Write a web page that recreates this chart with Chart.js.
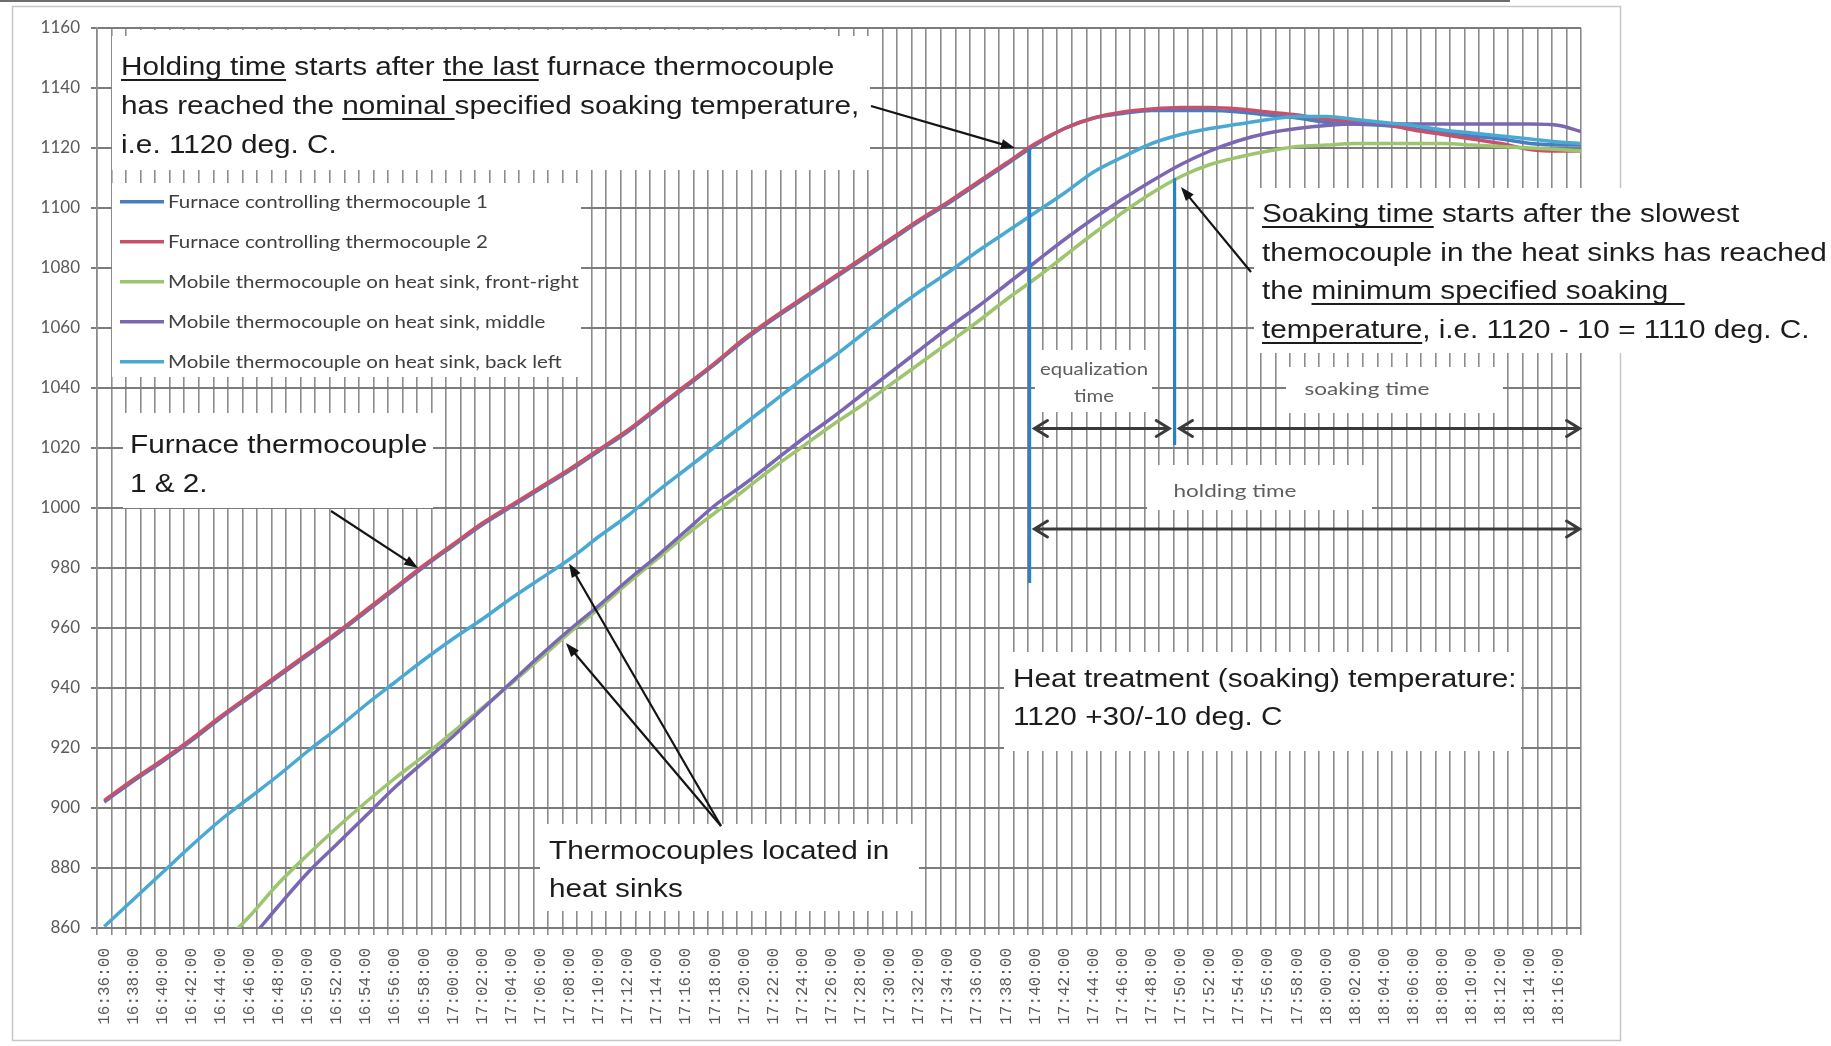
<!DOCTYPE html>
<html><head><meta charset="utf-8">
<script src="https://cdn.jsdelivr.net/npm/chart.js@4.4.1/dist/chart.umd.min.js"></script>
<style>html,body{margin:0;padding:0;background:#fff;overflow:hidden}canvas{display:block}</style>
</head><body>
<canvas id="c" width="1831" height="1046"></canvas>
<script>
// ---------------- DATA ----------------
const tickLabels = ['16:36:00','16:38:00','16:40:00','16:42:00','16:44:00','16:46:00','16:48:00','16:50:00','16:52:00','16:54:00','16:56:00','16:58:00','17:00:00','17:02:00','17:04:00','17:06:00','17:08:00','17:10:00','17:12:00','17:14:00','17:16:00','17:18:00','17:20:00','17:22:00','17:24:00','17:26:00','17:28:00','17:30:00','17:32:00','17:34:00','17:36:00','17:38:00','17:40:00','17:42:00','17:44:00','17:46:00','17:48:00','17:50:00','17:52:00','17:54:00','17:56:00','17:58:00','18:00:00','18:02:00','18:04:00','18:06:00','18:08:00','18:10:00','18:12:00','18:14:00','18:16:00'];
const sampleTimes = ['16:36:00','16:38:00','16:40:00','16:42:00','16:44:00','16:46:00','16:48:00','16:50:00','16:52:00','16:54:00','16:56:00','16:58:00','17:00:00','17:02:00','17:04:00','17:06:00','17:08:00','17:10:00','17:12:00','17:14:00','17:16:00','17:18:00','17:20:00','17:22:00','17:24:00','17:26:00','17:28:00','17:30:00','17:32:00','17:34:00','17:36:00','17:38:00','17:40:00','17:42:00','17:44:00','17:46:00','17:48:00','17:50:00','17:52:00','17:54:00','17:56:00','17:58:00','18:00:00','18:02:00','18:04:00','18:06:00','18:08:00','18:10:00','18:12:00','18:14:00','18:16:00','18:17:30'];
const seriesNames = ['Furnace controlling thermocouple 1','Furnace controlling thermocouple 2','Mobile thermocouple on heat sink, front-right','Mobile thermocouple on heat sink, middle','Mobile thermocouple on heat sink, back left'];
const furnaceTC1 = [902,909,915.5,922.5,930,937,944,951,958,965.5,973,980.5,987.5,994.5,1000.5,1006.5,1012.5,1019,1025.5,1033,1040.5,1048,1056,1063,1069.5,1076,1082.5,1089,1095.5,1101.5,1108,1114.5,1121,1126.5,1130,1131.5,1132.5,1132.5,1132.5,1132,1131,1130,1128.5,1128,1127.5,1126.5,1125,1124,1123,1121.5,1121,1121];
const furnaceTC2 = [902.5,909.5,916,923,930.5,937.5,944.5,951.5,958.5,966,973.5,981,988,995,1001,1007,1013,1019.5,1026,1033.5,1041,1048.5,1056.5,1063.5,1070,1076.5,1083,1089.5,1096,1102,1108.5,1115,1121.5,1126.5,1130,1132,1133,1133.5,1133.5,1133,1132,1131,1129.5,1129,1128,1126,1124.5,1123,1121.5,1119.5,1119,1119];
const sinkFrontRight = [null,null,null,null,854,864,875,884.5,893.5,902,910,917.5,925.5,933.5,941.5,950,958.5,966.5,975,983,991,998.5,1006,1013.5,1020.5,1027.5,1034,1041,1048,1055,1062,1069.5,1076.5,1084,1091.5,1098.5,1105,1110.5,1114.5,1117,1119,1120.5,1121,1121.5,1121.5,1121.5,1121.5,1121,1120.5,1120,1119.5,1119];
const sinkMiddle = [null,null,null,null,845,856,867.5,878.5,888,897.5,907,915.5,924,933,942,951,959.5,967.5,976,984,992.5,1001,1008,1015.5,1023,1030,1037.5,1045,1052.5,1060,1067,1074.5,1082,1089.5,1096.5,1103,1109,1114.5,1119,1122.5,1125,1126.5,1127.5,1128,1128,1128,1128,1128,1128,1128,1127.5,1125.5];
const sinkBackLeft = [860.5,869.5,878.5,887.5,896,903.5,911,919,926.5,934.5,942,949.5,956.5,963,970,976.5,983,990.5,997.5,1005.5,1013,1020.5,1028,1035.5,1043,1050,1057.5,1065,1072,1078.5,1085.5,1092,1098.5,1105,1112,1117,1121.5,1124.5,1126.5,1128,1129.5,1130.5,1130.5,1129.5,1128.5,1127.5,1126,1125,1124,1123,1122,1121.5];
const seriesColors = ['#4a7dbf','#c9506b','#9dc56e','#7b66b3','#49a9d3'];
// vertical marker lines (holding start, soaking start)
const markerTimes = ['17:39:36','17:49:34'];
const markerTop = [1120, 1110];
const markerBottom = [975, 1021];
// double-headed span arrows
const spanNames = ['equalization time','soaking time','holding time'];
const spanStart = ['17:39:56','17:49:54','17:39:56'];
const spanEnd = ['17:49:12','18:17:24','18:17:24'];
const spanLevel = [1026.5, 1026.5, 993];
// callout arrow targets
const calloutTipTimes = ['17:38:36','16:57:34','17:07:57','17:07:44','17:50:00'];
const calloutTipValues = [1120, 980, 981.5, 955, 1107];

// ---------------- CHART ----------------
function toMin(s){const p=s.split(':').map(Number);return p[0]*60+p[1]+p[2]/60-(16*60+36);}
const series = [furnaceTC1, furnaceTC2, sinkFrontRight, sinkMiddle, sinkBackLeft];
const datasets = series.map((arr,i)=>({
  label: seriesNames[i],
  data: arr.map((v,j)=>({x: toMin(sampleTimes[j]), y: v})),
  borderColor: seriesColors[i], backgroundColor: seriesColors[i],
  borderWidth: 3.5, pointRadius: 0, cubicInterpolationMode: 'monotone', order: 10 - i
}));
markerTimes.forEach((t,i)=>datasets.push({
  label: 'marker'+i,
  data: [{x: toMin(t), y: markerTop[i]}, {x: toMin(t), y: markerBottom[i]}],
  borderColor: '#2c80c4', borderWidth: 3.2, pointRadius: 0, order: 0
}));

function txt(ctx, segs, x, y, font, hs, color){
  ctx.font = font; ctx.fillStyle = color; ctx.textBaseline = 'alphabetic'; ctx.textAlign = 'left';
  let cx = x;
  for (const [t, ul] of segs){
    const w = ctx.measureText(t).width * hs;
    ctx.save(); ctx.translate(cx, y); ctx.scale(hs, 1); ctx.fillText(t, 0, 0); ctx.restore();
    if (ul) ctx.fillRect(cx, y + 4, w, 2);
    cx += w;
  }
}
function fitTxt(ctx, t, cx, y, font, width, color){
  ctx.font = font; const hs = width / ctx.measureText(t).width;
  txt(ctx, [[t,false]], cx - width/2, y, font, hs, color);
}
function pointer(ctx, x1, y1, x2, y2){
  const a = Math.atan2(y2-y1, x2-x1), L = 14, W = 5;
  ctx.strokeStyle = '#141414'; ctx.fillStyle = '#141414'; ctx.lineWidth = 2.2;
  ctx.beginPath(); ctx.moveTo(x1,y1); ctx.lineTo(x2 - Math.cos(a)*L*0.8, y2 - Math.sin(a)*L*0.8); ctx.stroke();
  ctx.beginPath(); ctx.moveTo(x2,y2);
  ctx.lineTo(x2 - Math.cos(a)*L + Math.sin(a)*W, y2 - Math.sin(a)*L - Math.cos(a)*W);
  ctx.lineTo(x2 - Math.cos(a)*L - Math.sin(a)*W, y2 - Math.sin(a)*L + Math.cos(a)*W);
  ctx.closePath(); ctx.fill();
}
function dbl(ctx, x1, x2, y){
  ctx.strokeStyle = '#3a3a3a'; ctx.lineWidth = 3; ctx.lineCap = 'round';
  ctx.beginPath(); ctx.moveTo(x1,y); ctx.lineTo(x2,y);
  ctx.moveTo(x1+13,y-8); ctx.lineTo(x1,y); ctx.lineTo(x1+13,y+8);
  ctx.moveTo(x2-13,y-8); ctx.lineTo(x2,y); ctx.lineTo(x2-13,y+8);
  ctx.stroke(); ctx.lineCap = 'butt';
}

const annot = {
  id: 'annot',
  afterDraw(chart){
    const ctx = chart.ctx, xs = chart.scales.x, ys = chart.scales.y;
    ctx.save();
    ctx.fillStyle = '#6d6d6d'; ctx.fillRect(0, 0, 1510, 2);
    ctx.strokeStyle = '#c6c6c6'; ctx.lineWidth = 1.5; ctx.strokeRect(12.5, 6.5, 1608, 1034);
    ctx.fillStyle = '#ffffff';
    [[112,36,870,170],[140,30,826,36],[112,183,581,377],[123,413,433,508],[540,824,919,911],
     [1004,652,1521,751],[1254,188,1831,353],[1035,350,1152,412],[1286,367,1503,413],[1147,465,1372,510]]
      .forEach(b=>ctx.fillRect(b[0], b[1], b[2]-b[0], b[3]-b[1]));
    // legend
    ctx.font = '17.5px Lato';
    const lhs = 320 / ctx.measureText(seriesNames[0]).width;
    seriesNames.forEach((n,i)=>{
      const y = 201.7 + 40*i;
      ctx.strokeStyle = seriesColors[i]; ctx.lineWidth = 3.5;
      ctx.beginPath(); ctx.moveTo(120, y); ctx.lineTo(164, y); ctx.stroke();
      txt(ctx, [[n,false]], 168, y + 6, '17.5px Lato', lhs, '#404040');
    });
    const F = '25.5px "Liberation Sans", Arial, sans-serif', HS = 1.165, K = '#1c1c1c';
    txt(ctx, [['Holding time',true],[' starts after ',false],['the last',true],[' furnace thermocouple',false]], 121, 75, F, HS, K);
    txt(ctx, [['has reached the ',false],['nominal ',true],['specified soaking temperature,',false]], 121, 114, F, HS, K);
    txt(ctx, [['i.e. 1120 deg. C.',false]], 121, 153, F, HS, K);
    txt(ctx, [['Furnace thermocouple',false]], 130, 453, F, HS, K);
    txt(ctx, [['1 & 2.',false]], 130, 492, F, HS, K);
    txt(ctx, [['Thermocouples located in',false]], 549, 859, F, HS, K);
    txt(ctx, [['heat sinks',false]], 549, 897, F, HS, K);
    txt(ctx, [['Heat treatment (soaking) temperature:',false]], 1013, 687, F, HS, K);
    txt(ctx, [['1120 +30/-10 deg. C',false]], 1013, 725, F, HS, K);
    txt(ctx, [['Soaking time',true],[' starts after the slowest',false]], 1262, 222, F, HS, K);
    txt(ctx, [['themocouple in the heat sinks has reached',false]], 1262, 261, F, HS, K);
    txt(ctx, [['the ',false],['minimum specified soaking  ',true]], 1262, 299, F, HS, K);
    txt(ctx, [['temperature',true],[', i.e. 1120 - 10 = 1110 deg. C.',false]], 1262, 338, F, HS, K);
    const S = '17.5px Lato', G = '#5e5e5e';
    fitTxt(ctx, 'equalization', 1094, 375, S, 108, G);
    fitTxt(ctx, 'time', 1094, 402, S, 40, G);
    fitTxt(ctx, 'soaking time', 1367, 395, S, 125, G);
    fitTxt(ctx, 'holding time', 1235, 497, S, 123, G);
    // span arrows
    spanStart.forEach((s,i)=>dbl(ctx, xs.getPixelForValue(toMin(s)), xs.getPixelForValue(toMin(spanEnd[i])), ys.getPixelForValue(spanLevel[i])));
    // callouts
    const tails = [[871,106],[331,511],[721,826],[721,826],[1251,272]];
    tails.forEach((p,i)=>pointer(ctx, p[0], p[1], xs.getPixelForValue(toMin(calloutTipTimes[i])), ys.getPixelForValue(calloutTipValues[i])));
    ctx.restore();
  }
};

new Chart(document.getElementById('c'), {
  type: 'line',
  data: { datasets },
  options: {
    responsive: false, animation: false, devicePixelRatio: 1,
    layout: { padding: { left: 0, right: 250, top: 28, bottom: 0 } },
    plugins: { legend: { display: false }, tooltip: { enabled: false } },
    scales: {
      x: {
        type: 'linear', min: -0.5, max: 101.5,
        afterBuildTicks: s => { const t = []; for (let i = 0; i <= 101; i++) t.push({value: i}); s.ticks = t; },
        afterFit: s => { s.height = 118; },
        grid: { offset: true, color: '#8c8c8c', lineWidth: 1.6, tickLength: 7 },
        border: { display: false },
        ticks: { autoSkip: false, maxRotation: 90, minRotation: 90, padding: 13, color: '#5a5a5a',
          font: { family: '"Liberation Mono", "DejaVu Sans Mono", monospace', size: 16 },
          callback: v => (v % 2 === 0 ? tickLabels[v/2] : '') }
      },
      y: {
        min: 860, max: 1160,
        afterFit: s => { s.width = 97; },
        ticks: { stepSize: 20, padding: 11, color: '#5a5a5a', font: { family: 'Lato', size: 17 },
          callback: v => String(v) },
        grid: { color: '#7c7c7c', lineWidth: 2, tickLength: 6 },
        border: { display: true, color: '#8c8c8c', width: 1.6 }
      }
    }
  },
  plugins: [annot]
});
</script>
</body></html>
